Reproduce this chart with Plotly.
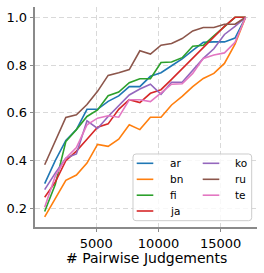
import plotly.graph_objects as go

# ---------------- data ----------------
judgements = [850, 1700, 2550, 3400, 4250, 5100, 5950, 6800, 7650, 8500,
              9350, 10200, 11050, 11900, 12750, 13600, 14450, 15300, 16150, 17000]

ar = [0.304, 0.400, 0.485, 0.530, 0.615, 0.615, 0.648, 0.671, 0.710, 0.710,
      0.753, 0.768, 0.797, 0.826, 0.862, 0.895, 0.897, 0.897, 0.913, 1.000]
bn = [0.165, 0.240, 0.318, 0.340, 0.390, 0.468, 0.460, 0.490, 0.550, 0.530,
      0.582, 0.582, 0.633, 0.669, 0.710, 0.744, 0.765, 0.807, 0.888, 1.000]
fi = [0.187, 0.300, 0.480, 0.530, 0.585, 0.612, 0.672, 0.687, 0.726, 0.743,
      0.743, 0.811, 0.813, 0.831, 0.879, 0.883, 0.922, 0.962, 1.000, 1.000]
ja = [0.247, 0.310, 0.400, 0.440, 0.490, 0.540, 0.554, 0.615, 0.655, 0.643,
      0.682, 0.697, 0.740, 0.785, 0.830, 0.875, 0.920, 0.962, 1.000, 1.000]
ko = [0.279, 0.348, 0.411, 0.428, 0.567, 0.535, 0.585, 0.630, 0.675, 0.700,
      0.720, 0.678, 0.728, 0.728, 0.778, 0.828, 0.868, 0.928, 0.962, 1.000]
ru = [0.383, 0.482, 0.581, 0.592, 0.635, 0.690, 0.757, 0.768, 0.781, 0.860,
      0.846, 0.883, 0.890, 0.911, 0.943, 0.957, 0.957, 0.971, 0.971, 1.000]
te = [0.205, 0.335, 0.410, 0.455, 0.550, 0.578, 0.588, 0.582, 0.655, 0.655,
      0.647, 0.685, 0.720, 0.722, 0.765, 0.828, 0.842, 0.851, 0.895, 1.000]

series_names = ["ar", "bn", "fi", "ja", "ko", "ru", "te"]
series_values = [ar, bn, fi, ja, ko, ru, te]
colors = ["#1f77b4", "#ff7f0e", "#2ca02c", "#d62728", "#9467bd", "#8c564b", "#e377c2"]

x_ticks = [5000, 10000, 15000]
y_ticks = [0.2, 0.4, 0.6, 0.8, 1.0]
x_title = "# Pairwise Judgements"

# ---------------- figure ----------------
W, H = 264, 273
ML, MR, MT, MB = 35, 7, 7, 46
PW, PH = W - ML - MR, H - MT - MB

def px2paper(px, py):
    return (px - ML) / PW, 1 - (py - MT) / PH

fig = go.Figure()
for name, vals, col in zip(series_names, series_values, colors):
    fig.add_trace(go.Scatter(x=judgements, y=vals, mode="lines", name=name,
                             line=dict(color=col, width=1.6), showlegend=False,
                             hoverinfo="skip"))

FONT = "DejaVu Sans"
spine = "#8a8a8a"
grid = "#d9d9d9"

fig.update_layout(
    width=W, height=H,
    margin=dict(l=ML, r=MR, t=MT, b=MB, pad=0, autoexpand=False),
    paper_bgcolor="white", plot_bgcolor="white",
    font=dict(family=FONT, size=13, color="black"),
    xaxis=dict(range=[72, 17917], tickvals=x_ticks, ticktext=[str(v) for v in x_ticks],
               showline=True, linecolor=spine, linewidth=1.5, mirror=False,
               ticks="outside", ticklen=3.5, tickwidth=1, tickcolor=spine,
               automargin=False,
               showgrid=True, gridcolor=grid, gridwidth=0.8, griddash="5px,3px",
               zeroline=False, tickfont=dict(size=13, family=FONT)),
    yaxis=dict(range=[0.1225, 1.043], tickvals=y_ticks, ticktext=[f"{v:.1f}" for v in y_ticks],
               showline=True, linecolor=spine, linewidth=1.5, mirror=False,
               ticks="outside", ticklen=3.5, tickwidth=1, tickcolor=spine,
               automargin=False,
               showgrid=True, gridcolor=grid, gridwidth=0.8, griddash="5px,3px",
               zeroline=False, tickfont=dict(size=13, family=FONT)),
    showlegend=False,
)

# x-axis title placed precisely
tx, ty = px2paper(146, 258)
fig.add_annotation(x=tx, y=ty, xref="paper", yref="paper", text=x_title, showarrow=False,
                   xanchor="center", yanchor="middle",
                   font=dict(size=14, family=FONT, color="black"))

# ---------------- manual two-column legend ----------------
lx0, ly0, lx1, ly1 = 133, 154, 251.7, 220.7
r = 3
def pt(px, py):
    a, b = px2paper(px, py)
    return f"{a:.5f},{b:.5f}"
path = (f"M {pt(lx0 + r, ly0)} L {pt(lx1 - r, ly0)} Q {pt(lx1, ly0)} {pt(lx1, ly0 + r)} "
        f"L {pt(lx1, ly1 - r)} Q {pt(lx1, ly1)} {pt(lx1 - r, ly1)} "
        f"L {pt(lx0 + r, ly1)} Q {pt(lx0, ly1)} {pt(lx0, ly1 - r)} "
        f"L {pt(lx0, ly0 + r)} Q {pt(lx0, ly0)} {pt(lx0 + r, ly0)} Z")
fig.add_shape(type="path", path=path, xref="paper", yref="paper",
              line=dict(color="#cccccc", width=1), fillcolor="rgba(255,255,255,0.8)",
              layer="above")

row_y = [163.3, 179.3, 195.2, 211.0]
col_line = [(136.7, 153.3), (202.7, 219.3)]
col_text = [167.5, 233.0]
for i, (name, col) in enumerate(zip(series_names, colors)):
    c, rr = divmod(i, 4)
    yy = row_y[rr]
    x0, y0 = px2paper(col_line[c][0], yy)
    x1, _ = px2paper(col_line[c][1], yy)
    fig.add_shape(type="line", xref="paper", yref="paper", x0=x0, x1=x1, y0=y0, y1=y0,
                  line=dict(color=col, width=1.6), layer="above")
    lx, ly = px2paper(col_text[c], yy)
    fig.add_annotation(x=lx, y=ly, xref="paper", yref="paper", text=name, showarrow=False,
                       xanchor="left", yanchor="middle",
                       font=dict(size=10.5, family=FONT, color="black"))

fig.write_html("out.html",
               config={"displayModeBar": False},
               post_script="document.body.style.margin='0';document.body.style.overflow='hidden';")
